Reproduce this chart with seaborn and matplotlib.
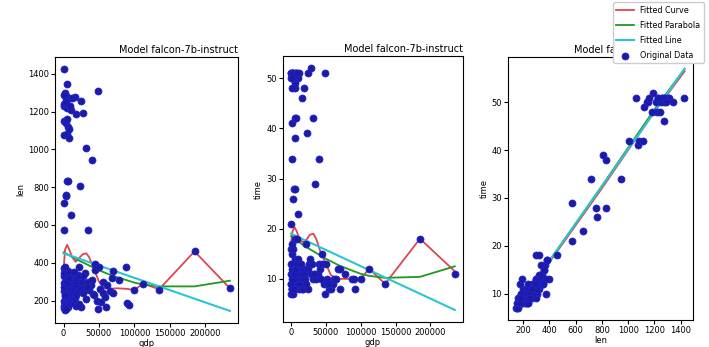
import numpy as np
import pandas as pd
import matplotlib
matplotlib.use("Agg")
import matplotlib.pyplot as plt
import seaborn as sns

# records: gdp, len, time
gdp = [0, 48000, 5000, 2000, 3000, 8000, 16000, 12000, 25000, 28000, 18000, 0, 5000, 10000,
       0, 3000, 6000, 1000, 5000, 7000, 32000, 7000, 5000, 1000, 3000, 4000, 1000, 9000,
       40000, 5000, 23000, 4000, 1000, 10000, 0, 35000, 3000, 6000,
       0, 1000, 2000, 500, 3000, 1500, 4000, 0, 2500, 5000, 1000, 3500, 0, 6000, 2000, 500,
       4500, 7000, 8000, 6500, 9000, 10000, 7500, 11000, 8500, 12000, 9500, 3000, 1000, 5500,
       2000, 4000, 6000, 8000, 10000, 12000, 0, 3000, 5000, 7000, 9000, 11000, 1500, 2500, 3500,
       13000, 14000, 15000, 16000, 17000, 18000, 19000, 20000, 14000, 13000, 15000, 17000,
       16000, 18000, 20000, 5000, 8000,
       22000, 24000, 26000, 28000, 30000, 32000, 34000, 36000, 38000, 40000, 42000, 44000,
       45000, 47000, 48000, 50000, 52000, 55000, 56000, 58000, 60000, 62000, 65000, 68000,
       70000, 70000, 78000, 25000, 27000, 33000, 43000, 53000,
       88000, 90000, 92000, 100000, 112000, 135000, 185000, 235000, 22000]
length = [1425, 1310, 1345, 1300, 1280, 1270, 1275, 1270, 1255, 1190, 1185, 1230, 1220, 1210,
          1150, 1140, 1120, 1075, 1080, 1060, 1005, 1110, 1160, 1240, 1260, 1250, 1290, 1230,
          945, 830, 808, 755, 718, 655, 575, 575, 760, 830,
          160, 170, 185, 200, 210, 225, 240, 250, 265, 280, 295, 310, 330, 345, 360, 370,
          190, 205, 220, 235, 250, 260, 275, 290, 300, 315, 325, 335, 345, 355,
          230, 175, 165, 185, 200, 215, 270, 285, 300, 180, 195, 210, 380, 150, 155,
          230, 245, 260, 275, 290, 305, 320, 335, 350, 200, 185, 170,
          215, 230, 250, 300, 320,
          380, 265, 300, 240, 345, 210, 300, 255, 280, 310, 235, 395,
          360, 200, 155, 375, 260, 240, 300, 220, 165, 280, 250, 320,
          355, 240, 310, 165, 330, 270, 230, 195,
          375, 185, 175, 255, 290, 255, 460, 265, 180]
time = [51, 51, 50, 51, 51, 50, 46, 51, 51, 52, 48, 51, 48, 50,
        50, 50, 49, 41, 42, 51, 42, 42, 51, 48, 51, 50, 50, 51,
        34, 38, 39, 28, 34, 23, 21, 29, 26, 28,
        7, 8, 8, 9, 9, 10, 10, 11, 11, 12, 12, 13, 13, 14, 15, 16,
        8, 9, 9, 10, 10, 11, 11, 12, 13, 12, 14, 16, 13, 12,
        8, 9, 8, 10, 11, 10, 9, 10, 11, 12, 13, 8, 17, 7, 8,
        11, 9, 10, 11, 12, 10, 11, 12, 13, 9, 8, 8,
        10, 11, 10, 18, 18,
        17, 12, 13, 11, 13, 10, 11, 10, 11, 13, 12, 13,
        15, 9, 7, 13, 10, 8, 9, 8, 9, 10, 10, 12,
        12, 8, 11, 8, 14, 11, 10, 9,
        10, 10, 8, 10, 12, 9, 18, 11, 9]

# fitted lines
curve_x = [0, 2000, 5000, 8000, 12000, 17000, 22000, 27000, 32000, 36000, 42000, 50000,
           57000, 65000, 75000, 90000, 100000, 112000, 135000, 185000, 235000]
curve_len = [365, 470, 495, 470, 430, 405, 425, 445, 450, 430, 375, 300,
             265, 262, 265, 262, 255, 290, 260, 460, 265]
curve_time = [17, 19.5, 20.3, 19.5, 18, 17.3, 17.8, 18.8, 19, 18, 15.5, 13,
              10.8, 10, 10, 10, 10, 12, 9, 18, 11.5]
para_x = [0, 20000, 50000, 70000, 100000, 112000, 135000, 185000, 235000]
para_len = [455, 415, 360, 330, 295, 285, 275, 275, 305]
para_time = [18.5, 16.5, 14, 12.6, 11, 10.6, 10.2, 10.4, 12.5]
line_x = [0, 235000]
line_len = [450, 145]
line_time = [19, 3.8]

lt_x = [150, 400, 800, 1200, 1430]
lt_curve = [7.5, 16.5, 32, 48, 56.5]
lt_para = [7, 16.8, 32.5, 48.5, 57]
lt_line = [7, 16.8, 32.4, 48, 57]

df = pd.DataFrame({"gdp": gdp, "len": length, "time": time})

plt.rcParams["font.size"] = 6.5
fig = plt.figure(figsize=(7.09, 3.47), dpi=100)
axes = [fig.add_axes([0.078, 0.069, 0.258, 0.767]),
        fig.add_axes([0.399, 0.072, 0.254, 0.766]),
        fig.add_axes([0.7165, 0.078, 0.261, 0.758])]

panels = [("gdp", "len", curve_x, curve_len, para_x, para_len, line_x, line_len),
          ("gdp", "time", curve_x, curve_time, para_x, para_time, line_x, line_time),
          ("len", "time", lt_x, lt_curve, lt_x, lt_para, lt_x, lt_line)]

for ax, (xc, yc, cx, cy, px, py, lx, ly) in zip(axes, panels):
    sns.lineplot(x=cx, y=cy, ax=ax, color="#e0454f", lw=1.3, estimator=None,
                 label="Fitted Curve", legend=False)
    sns.lineplot(x=px, y=py, ax=ax, color="#1e9a1e", lw=1.3, estimator=None,
                 label="Fitted Parabola", legend=False)
    sns.lineplot(x=lx, y=ly, ax=ax, color="#2cc4d4", lw=1.5, estimator=None,
                 label="Fitted Line", legend=False)
    sns.scatterplot(data=df, x=xc, y=yc, ax=ax, color="#1c1ca0", edgecolor="#2222dd",
                    s=26, linewidth=0.5, zorder=3, label="Original Data", legend=False)
    ax.set_title("Model falcon-7b-instruct", loc="right", fontsize=7, pad=3)
    ax.set_xlabel(xc, labelpad=0.5, fontsize=6)
    ax.set_ylabel(yc, labelpad=2, fontsize=6)
    ax.tick_params(labelsize=6, length=3, pad=1.5)

axes[0].set_yticks([200, 400, 600, 800, 1000, 1200, 1400])
axes[1].set_yticks([10, 20, 30, 40, 50])
axes[2].set_yticks([10, 20, 30, 40, 50])
for ax in axes[:2]:
    ax.set_xticks([0, 50000, 100000, 150000, 200000])
axes[2].set_xticks([200, 400, 600, 800, 1000, 1200, 1400])

handles, labels = axes[2].get_legend_handles_labels()
fig.legend(handles, labels, loc="upper right", bbox_to_anchor=(0.995, 0.998),
           fontsize=5.8, framealpha=1, borderaxespad=0.2, labelspacing=0.75,
           handlelength=2.2)

fig.savefig("out.png", dpi=100)
